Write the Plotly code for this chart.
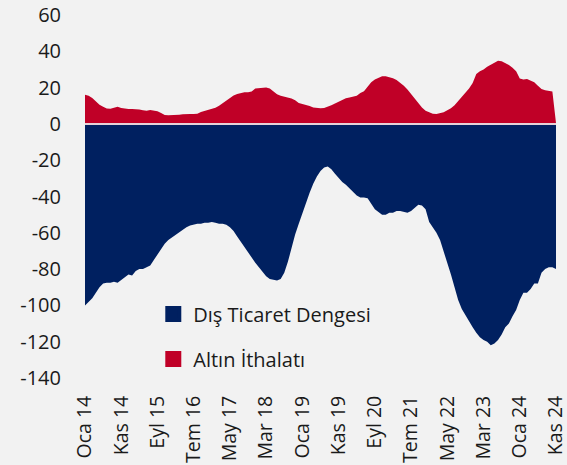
import plotly.graph_objects as go

months_tr = ["Oca", "Şub", "Mar", "Nis", "May", "Haz", "Tem", "Ağu", "Eyl", "Eki", "Kas", "Ara"]
categories = [f"{months_tr[m]} {y % 100:02d}" for y in range(2014, 2025) for m in range(12)][:131]

dis_ticaret = [
    -100, -98, -96, -93, -90, -88, -87.5, -87.5, -87, -87.5,
    -86, -84, -83, -83.5, -81, -80, -80, -79, -78, -75,
    -72, -69, -66, -64, -62.5, -61, -60, -58.5, -57, -56,
    -55.5, -55, -55, -54.5, -54.5, -54, -54.5, -55, -55, -55.5,
    -57, -59, -62, -65, -67.5, -70.5, -73.5, -76.5, -79, -81.5,
    -84, -85.5, -86, -86.3, -85.5, -82, -76, -68, -61, -55,
    -49, -44, -38, -33, -29, -26, -24, -23.5, -25, -27.5,
    -30, -32, -33.5, -35.5, -37.5, -39.5, -40.5, -40.5, -41, -44,
    -47, -48.5, -50, -50, -49, -49, -48, -48, -48.5, -49,
    -48, -46, -44.5, -45, -47, -54, -57, -60, -64, -70,
    -77, -83, -90, -97, -102, -105.5, -108.5, -112, -115, -117.5,
    -119, -120, -122, -121, -119, -116, -112, -110, -106, -102.5,
    -97, -93, -93, -91, -88, -88, -82, -80, -79, -79,
    -80,
]

altin_ithalati = [
    16, 15.5, 14.3, 12.5, 10.5, 9.5, 8.5, 8.3, 8.8, 9.4,
    8.8, 8.3, 8.2, 8.2, 8.2, 8, 7.5, 7.2, 7.6, 7.5,
    7, 6, 4.9, 4.8, 4.8, 4.9, 5, 5.3, 5.6, 5.5,
    5.5, 5.6, 6.5, 7, 7.7, 8.3, 8.9, 10, 11.5, 12.5,
    14, 15.6, 16.5, 17, 17.4, 17.5, 17.8, 19.5, 19.8, 20,
    20, 19.5, 18, 16.3, 15.5, 15, 14.5, 14, 13, 11.5,
    11, 10.5, 9.9, 9, 8.6, 8.6, 8.8, 9.4, 10.3, 11.3,
    12.3, 13.5, 14.2, 14.5, 15, 15.5, 17, 18, 20.5, 23,
    24.5, 25.5, 26.2, 26.3, 25.8, 25.2, 24.2, 22.8, 21, 19,
    16.5, 13.8, 11.2, 9, 7.2, 6.2, 5.6, 5.5, 5.8, 6.4,
    7.5, 8.6, 10.3, 12.5, 15, 17.2, 19.5, 22.5, 27.5, 29,
    30, 31.5, 32.5, 33.5, 34.8, 34.5, 33.5, 32.5, 31, 29,
    25, 24.5, 24.8, 23.8, 23, 21, 19.2, 18.5, 18.3, 17.8,
    0.5,
]

tick_idx = list(range(0, 131, 10))
tick_text = [categories[i] for i in tick_idx]
y_ticks = list(range(-140, 61, 20))
y_tick_text = [str(v) for v in y_ticks]

NAVY = "#002060"
RED = "#C00027"
BG = "#F2F2F2"
FONT = "Open Sans"
TXT = "#1A1A1A"

x_idx = list(range(len(categories)))

fig = go.Figure()
fig.add_trace(go.Scatter(
    x=x_idx, y=dis_ticaret, mode="lines", line=dict(color=NAVY, width=0),
    fill="tozeroy", fillcolor=NAVY, showlegend=False, hoverinfo="skip",
    customdata=categories,
))
fig.add_trace(go.Scatter(
    x=x_idx, y=altin_ithalati, mode="lines", line=dict(color=RED, width=0),
    fill="tozeroy", fillcolor=RED, showlegend=False, hoverinfo="skip",
    customdata=categories,
))
# legend entries (square swatches)
fig.add_trace(go.Bar(x=[None], y=[None], name="Dış Ticaret Dengesi",
                     marker=dict(color=NAVY, line=dict(color=NAVY, width=4)), legendgroup="a"))
fig.add_trace(go.Bar(x=[None], y=[None], name="Altın İthalatı",
                     marker=dict(color=RED, line=dict(color=RED, width=4)), legendgroup="b"))

fig.add_shape(type="line", xref="paper", x0=0, x1=1, yref="y", y0=0, y1=0,
              line=dict(color="#E6D3D8", width=2), layer="above")

fig.update_layout(
    width=567, height=465,
    margin=dict(l=85, r=11, t=15, b=87),
    paper_bgcolor=BG, plot_bgcolor=BG,
    font=dict(family=FONT, size=20, color=TXT),
    showlegend=True,
    legend=dict(x=0.145, y=0.23, xanchor="left", yanchor="top",
                bgcolor="rgba(0,0,0,0)", font=dict(size=20, color=TXT),
                tracegroupgap=16, itemwidth=30),
    xaxis=dict(range=[-0.001, 130.001], tickmode="array", tickvals=tick_idx, ticktext=tick_text,
               tickangle=-90, showgrid=False, zeroline=False, showline=False,
               ticks="outside", ticklen=9, tickcolor=BG, tickfont=dict(size=19.5),
               automargin=False, ticklabeloverflow="allow"),
    yaxis=dict(range=[-140, 60], tickmode="array", tickvals=y_ticks, ticktext=y_tick_text,
               showgrid=False, zeroline=False, showline=False,
               ticks="outside", ticklen=19, tickcolor=BG, tickfont=dict(size=20),
               automargin=False),
)

fig.write_html("out.html", config={"displayModeBar": False},
               post_script="document.body.style.margin='0';")
